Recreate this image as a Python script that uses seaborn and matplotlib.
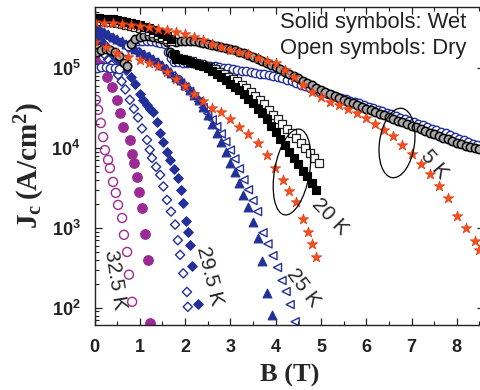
import numpy as np
import pandas as pd
import matplotlib
matplotlib.use("Agg")
import matplotlib.pyplot as plt
import seaborn as sns
from matplotlib.patches import Ellipse
from matplotlib.ticker import LogLocator, FixedLocator, MultipleLocator, FuncFormatter, NullFormatter

# ---------------- data ----------------
# 5 K, reference sample (red stars)
B_5s = [0.0, 0.2, 0.4, 0.6, 0.8, 1.0, 1.2, 1.4, 1.6, 1.8, 2.0, 2.2, 2.4, 2.6, 2.8, 3.0, 3.2, 3.4, 3.6, 3.8,
        4.0, 4.2, 4.4, 4.6, 4.8, 5.0, 5.2, 5.4, 5.6, 5.8, 6.0, 6.2, 6.4, 6.6, 6.8, 7.0, 7.2, 7.4, 7.6, 7.8,
        8.0, 8.2, 8.4, 8.5]
J_5s = [3.8e5, 3.7e5, 3.65e5, 3.55e5, 3.45e5, 3.35e5, 3.25e5, 3.1e5, 2.95e5, 2.8e5, 2.65e5, 2.45e5, 2.25e5,
        2.0e5, 1.85e5, 1.7e5, 1.58e5, 1.5e5, 1.35e5, 1.22e5, 1.15e5, 9.5e4, 7.8e4, 6.2e4, 5.0e4, 4.3e4,
        3.8e4, 3.4e4, 3.1e4, 2.7e4, 2.4e4, 2.0e4, 1.7e4, 1.4e4, 1.1e4, 8.5e3, 6.3e3, 4.7e3, 3.3e3, 2.4e3,
        1.4e3, 1.0e3, 6.8e2, 5.3e2]
# 20 K, reference sample (red stars)
B_20s = [0.0, 0.25, 0.5, 0.75, 1.0, 1.2, 1.4, 1.6, 1.8, 2.0, 2.2, 2.4, 2.6, 2.8, 3.0, 3.2, 3.4, 3.6, 3.8,
         3.98, 4.16, 4.3, 4.45, 4.6, 4.72, 4.8, 4.89]
J_20s = [2.1e5, 1.85e5, 1.55e5, 1.38e5, 1.25e5, 1.17e5, 1.05e5, 8.9e4, 7.3e4, 6.0e4, 4.8e4, 3.9e4, 3.2e4,
         2.8e4, 2.3e4, 1.85e4, 1.5e4, 1.15e4, 8.2e3, 5.6e3, 4.0e3, 2.9e3, 2.1e3, 1.3e3, 9.0e2, 6.3e2, 4.3e2]

# 5 K wet (grey filled circles) and 5 K dry (blue open circles)
B_5w = [0.05, 0.15, 0.25, 0.35, 0.45, 0.55, 0.65, 0.72, 0.8, 0.9, 1.0, 1.1, 1.2, 1.3, 1.4, 1.5, 1.6, 1.66,
        1.72, 1.8, 1.9, 2.0, 2.1, 2.2, 2.3, 2.4, 2.5, 2.6, 2.7, 2.8, 2.9, 3.0, 3.1, 3.2, 3.3, 3.4, 3.5, 3.6,
        3.7, 3.8, 3.9, 4.0, 4.1, 4.2, 4.3, 4.4, 4.5, 4.6, 4.7, 4.8, 4.9, 5.0, 5.1, 5.2, 5.3, 5.4, 5.5, 5.6,
        5.7, 5.8, 5.9, 6.0, 6.1, 6.2, 6.3, 6.4, 6.5, 6.6, 6.7, 6.8, 6.9, 7.0, 7.1, 7.2, 7.3, 7.4, 7.5, 7.6,
        7.7, 7.8, 7.9, 8.0, 8.1, 8.2, 8.3, 8.4, 8.5]
J_5w = [1.6e5, 1.68e5, 1.72e5, 1.7e5, 1.6e5, 1.4e5, 1.15e5, 1.05e5, 2.0e5, 2.3e5, 2.45e5, 2.5e5, 2.5e5,
        2.45e5, 2.4e5, 2.3e5, 2.1e5, 1.6e5, 1.5e5, 2.1e5, 2.2e5, 2.2e5, 2.2e5, 2.15e5, 2.1e5, 2.05e5,
        2.0e5, 1.95e5, 1.9e5, 1.85e5, 1.8e5, 1.75e5, 1.68e5, 1.6e5, 1.52e5, 1.45e5, 1.38e5, 1.3e5, 1.22e5,
        1.15e5, 1.08e5, 1.02e5, 9.6e4, 9.0e4, 8.4e4, 7.9e4, 7.4e4, 6.9e4, 6.5e4, 6.1e4, 5.7e4, 5.35e4,
        5.05e4, 4.75e4, 4.5e4, 4.25e4, 4.0e4, 3.8e4, 3.6e4, 3.4e4, 3.25e4, 3.1e4, 2.95e4, 2.8e4, 2.67e4,
        2.55e4, 2.43e4, 2.32e4, 2.2e4, 2.1e4, 2.0e4, 1.9e4, 1.81e4, 1.72e4, 1.64e4, 1.56e4, 1.49e4, 1.42e4,
        1.35e4, 1.29e4, 1.23e4, 1.17e4, 1.12e4, 1.07e4, 1.03e4, 9.9e3, 9.6e3]
B_5d = [0.05, 0.15, 0.25, 0.35, 0.45, 0.55, 0.65, 0.75, 0.85, 0.95, 1.05, 1.15, 1.25, 1.35, 1.45, 1.55, 1.62,
        1.68, 1.75, 1.85, 1.95, 2.05, 2.15, 2.25, 2.35, 2.45, 2.55, 2.65, 2.75, 2.85, 2.95, 3.05, 3.15, 3.25,
        3.35, 3.45, 3.55, 3.65, 3.75, 3.85, 3.95, 4.05, 4.15, 4.25, 4.35, 4.45, 4.55, 4.65, 4.75, 4.85, 4.95,
        5.05, 5.15, 5.25, 5.35, 5.45, 5.55, 5.65, 5.75, 5.85, 5.95, 6.05, 6.15, 6.25, 6.35, 6.45, 6.55, 6.65,
        6.75, 6.85, 6.95, 7.05, 7.15, 7.25, 7.35, 7.45, 7.55, 7.65, 7.75, 7.85, 7.95, 8.05, 8.15, 8.25, 8.35,
        8.45]
J_5d = [1.0e5, 1.02e5, 1.02e5, 1.0e5, 1.0e5, 9.8e4, 1.3e5, 1.9e5, 2.1e5, 2.2e5, 2.2e5, 2.2e5, 2.15e5, 2.1e5,
        2.05e5, 2.0e5, 1.6e5, 1.35e5, 1.2e5, 1.18e5, 1.17e5, 1.16e5, 1.15e5, 1.13e5, 1.11e5, 1.09e5, 1.07e5,
        1.05e5, 1.03e5, 1.01e5, 9.9e4, 9.7e4, 9.5e4, 9.3e4, 9.1e4, 8.9e4, 8.7e4, 8.5e4, 8.3e4, 8.1e4, 7.9e4,
        7.7e4, 7.4e4, 7.1e4, 6.8e4, 6.5e4, 6.2e4, 5.95e4, 5.7e4, 5.45e4, 5.2e4, 5.0e4, 4.8e4, 4.6e4, 4.4e4,
        4.2e4, 4.05e4, 3.9e4, 3.75e4, 3.6e4, 3.45e4, 3.3e4, 3.15e4, 3.0e4, 2.88e4, 2.76e4, 2.64e4, 2.52e4,
        2.4e4, 2.3e4, 2.2e4, 2.1e4, 2.0e4, 1.91e4, 1.83e4, 1.75e4, 1.67e4, 1.59e4, 1.52e4, 1.45e4, 1.38e4,
        1.31e4, 1.25e4, 1.19e4, 1.13e4, 1.08e4]

# 20 K wet (black filled squares) and dry (black open squares)
B_20w = [0.0, 0.1, 0.2, 0.3, 0.4, 0.5, 0.6, 0.7, 0.8, 0.9, 1.0, 1.1, 1.2, 1.3, 1.4, 1.5, 1.6, 1.7, 1.75, 1.8,
         1.9, 2.0, 2.1, 2.2, 2.3, 2.4, 2.5, 2.6, 2.7, 2.8, 2.9, 3.0, 3.1, 3.2, 3.3, 3.4, 3.5, 3.6, 3.7, 3.8,
         3.9, 4.0, 4.1, 4.2, 4.3, 4.4, 4.5, 4.6, 4.7, 4.8, 4.9]
J_20w = [4.2e5, 4.2e5, 4.15e5, 4.1e5, 4.05e5, 4.0e5, 3.9e5, 3.8e5, 3.7e5, 3.55e5, 3.45e5, 3.3e5, 3.15e5,
         3.0e5, 2.85e5, 2.7e5, 2.5e5, 2.3e5, 1.5e5, 1.3e5, 1.28e5, 1.25e5, 1.2e5, 1.15e5, 1.1e5, 1.05e5,
         1.0e5, 9.2e4, 8.5e4, 7.7e4, 7.0e4, 6.4e4, 5.8e4, 5.3e4, 4.7e4, 4.1e4, 3.6e4, 3.1e4, 2.7e4, 2.3e4,
         1.9e4, 1.6e4, 1.3e4, 1.1e4, 9.0e3, 7.5e3, 6.3e3, 5.2e3, 4.4e3, 3.6e3, 3.0e3]
B_20d = [0.0, 0.1, 0.2, 0.3, 0.4, 0.5, 0.6, 0.7, 0.8, 0.9, 1.0, 1.1, 1.2, 1.3, 1.4, 1.5, 1.6, 1.7, 1.78, 1.85,
         1.95, 2.05, 2.15, 2.25, 2.35, 2.45, 2.55, 2.65, 2.75, 2.85, 2.95, 3.05, 3.15, 3.25, 3.35, 3.45, 3.55,
         3.65, 3.75, 3.85, 3.95, 4.05, 4.15, 4.25, 4.35, 4.45, 4.55, 4.65, 4.75, 4.85, 4.95]
J_20d = [3.9e5, 3.9e5, 3.85e5, 3.8e5, 3.75e5, 3.7e5, 3.6e5, 3.5e5, 3.4e5, 3.3e5, 3.2e5, 3.05e5, 2.9e5,
         2.75e5, 2.6e5, 2.45e5, 2.3e5, 2.15e5, 1.45e5, 1.35e5, 1.3e5, 1.26e5, 1.22e5, 1.17e5, 1.12e5,
         1.07e5, 1.02e5, 9.6e4, 9.0e4, 8.4e4, 7.8e4, 7.3e4, 6.8e4, 6.2e4, 5.6e4, 5.0e4, 4.5e4, 4.0e4,
         3.5e4, 3.0e4, 2.6e4, 2.3e4, 2.0e4, 1.75e4, 1.52e4, 1.32e4, 1.15e4, 1.0e4, 8.7e3, 7.5e3, 6.5e3]

# 25 K wet (filled up-triangles) and dry (open left-triangles)
B_25w = [0.0, 0.1, 0.2, 0.3, 0.4, 0.5, 0.6, 0.7, 0.8, 0.9, 1.0, 1.1, 1.2, 1.3, 1.4, 1.5, 1.6, 1.7, 1.8, 1.9,
         2.0, 2.1, 2.2, 2.3, 2.4, 2.5, 2.6, 2.7, 2.8, 2.9, 3.0, 3.1, 3.2, 3.28, 3.4, 3.5, 3.6, 3.7, 3.81, 3.92]
J_25w = [3.25e5, 3.05e5, 2.85e5, 2.65e5, 2.45e5, 2.3e5, 2.15e5, 2.0e5, 1.85e5, 1.72e5, 1.6e5, 1.5e5,
         1.42e5, 1.3e5, 1.2e5, 1.08e5, 9.6e4, 8.6e4, 7.8e4, 7.0e4, 6.1e4, 5.3e4, 4.6e4, 4.0e4, 3.3e4,
         2.6e4, 2.0e4, 1.55e4, 1.2e4, 9.0e3, 6.5e3, 5.0e3, 3.6e3, 2.6e3, 1.8e3, 1.2e3, 7.5e2, 3.8e2,
         1.55e2, 8.2e1]
B_25d = [0.0, 0.1, 0.2, 0.3, 0.4, 0.5, 0.6, 0.7, 0.8, 0.9, 1.0, 1.1, 1.2, 1.3, 1.4, 1.5, 1.6, 1.7, 1.8, 1.9,
         2.0, 2.1, 2.2, 2.3, 2.4, 2.5, 2.6, 2.7, 2.8, 2.9, 3.0, 3.1, 3.2, 3.3, 3.4, 3.5, 3.6, 3.72, 3.83,
         3.94, 4.04, 4.14, 4.23, 4.32, 4.43]
J_25d = [3.0e5, 2.8e5, 2.6e5, 2.4e5, 2.25e5, 2.1e5, 1.97e5, 1.85e5, 1.72e5, 1.6e5, 1.48e5, 1.38e5,
         1.28e5, 1.18e5, 1.08e5, 9.8e4, 8.9e4, 8.0e4, 7.2e4, 6.5e4, 5.8e4, 5.1e4, 4.4e4, 3.8e4, 3.2e4,
         2.7e4, 2.25e4, 1.85e4, 1.5e4, 1.2e4, 9.4e3, 7.3e3, 5.5e3, 4.0e3, 3.0e3, 2.2e3, 1.6e3, 8.7e2,
         6.3e2, 4.5e2, 3.2e2, 2.2e2, 1.6e2, 1.1e2, 6.7e1]

# 29.5 K wet (filled diamonds) and dry (open diamonds)
B_29w = [0.0, 0.1, 0.2, 0.3, 0.4, 0.5, 0.6, 0.7, 0.8, 0.9, 1.0, 1.08, 1.16, 1.23, 1.29, 1.37, 1.45, 1.52,
         1.6, 1.67, 1.75, 1.84, 1.9, 1.95, 2.02, 2.07, 2.11, 2.15, 2.28]
J_29w = [2.6e5, 2.3e5, 2.0e5, 1.75e5, 1.5e5, 1.3e5, 1.1e5, 9.4e4, 7.8e4, 6.3e4, 4.8e4, 4.0e4, 3.4e4,
         3.1e4, 2.8e4, 2.1e4, 1.54e4, 1.2e4, 9.0e3, 7.1e3, 5.5e3, 4.2e3, 3.0e3, 2.06e3, 1.22e3, 9.0e2,
         6.1e2, 3.35e2, 1.12e2]
B_29d = [0.0, 0.08, 0.16, 0.23, 0.3, 0.37, 0.45, 0.52, 0.6, 0.68, 0.78, 0.87, 0.96, 1.05, 1.16, 1.22, 1.27,
         1.36, 1.45, 1.52, 1.6, 1.69, 1.78, 1.84, 1.89, 1.96, 2.04, 2.06]
J_29d = [2.1e5, 1.9e5, 1.65e5, 1.46e5, 1.28e5, 1.1e5, 9.6e4, 8.2e4, 6.8e4, 5.4e4, 4.0e4, 3.1e4, 2.4e4,
         1.75e4, 1.26e4, 9.5e3, 7.5e3, 5.8e3, 4.6e3, 3.3e3, 2.24e3, 1.6e3, 1.1e3, 7.0e2, 4.6e2, 2.7e2,
         1.58e2, 1.03e2]

# 32.5 K wet (purple filled circles) and dry (purple open circles)
B_32w = [0.0, 0.12, 0.28, 0.39, 0.5, 0.56, 0.63, 0.78, 0.83, 0.87, 0.94, 0.98, 1.05, 1.11, 1.18, 1.23]
J_32w = [1.26e5, 1.09e5, 7.7e4, 5.8e4, 4.0e4, 2.74e4, 1.83e4, 1.26e4, 8.4e3, 6.5e3, 4.3e3, 2.8e3, 1.78e3,
         8.4e2, 3.98e2, 6.5e1]
B_32d = [0.03, 0.08, 0.14, 0.19, 0.23, 0.3, 0.34, 0.41, 0.47, 0.52, 0.61, 0.65, 0.72, 0.76, 0.83]
J_32d = [4.0e4, 3.0e4, 2.05e4, 1.37e4, 9.4e3, 7.1e3, 5.6e3, 3.76e3, 2.74e3, 1.94e3, 1.33e3, 8.2e2, 5.0e2,
         2.6e2, 1.19e2]

x_ticks = [0, 1, 2, 3, 4, 5, 6, 7, 8]
y_ticks = [1e2, 1e3, 1e4, 1e5]

# ---------------- styling ----------------
sns.set_theme(style="ticks")
plt.rcParams["font.family"] = ["Liberation Sans", "DejaVu Sans"]
plt.rcParams["mathtext.fontset"] = "custom"
plt.rcParams["mathtext.bf"] = "Liberation Serif:bold"
plt.rcParams["mathtext.sf"] = "Liberation Sans:bold"
plt.rcParams["mathtext.rm"] = "Liberation Serif"

RED = "#F4511E"
BLUE = "#23309A"
PURPLE = "#9C2A94"

fig = plt.figure(figsize=(4.8, 3.9), dpi=100)
ax = fig.add_axes([94.5 / 480, 1 - 325 / 390, (484 - 94.5) / 480, (325 - 7) / 390])

def draw(B, J, marker, size, face, edge, lw=0.9, z=2):
    df = pd.DataFrame({"B": B, "J": J})
    sns.scatterplot(data=df, x="B", y="J", marker=marker, s=size, color=edge,
                    edgecolor=edge, linewidth=lw, ax=ax, zorder=z, legend=False)
    coll = ax.collections[-1]
    coll.set_facecolor(face)
    coll.set_edgecolor(edge)

# draw order: back to front
draw(B_32d, J_32d, "o", 42, "none", PURPLE, 1.0)
draw(B_32w, J_32w, "o", 48, PURPLE, PURPLE, 0.8)
draw(B_29d, J_29d, "D", 22, "none", BLUE, 1.0)
draw(B_29w, J_29w, "D", 24, BLUE, BLUE, 0.8)
draw(B_25d, J_25d, "<", 34, "none", BLUE, 1.0)
draw(B_25w, J_25w, "^", 40, BLUE, BLUE, 0.8)
draw(B_5d, J_5d, "o", 36, "white", BLUE, 1.0)
draw(B_5w, J_5w, "o", 36, "#A8A8A8", "black", 1.1)
draw(B_20d, J_20d, "s", 26, "white", "#222222", 0.9)
draw(B_20w, J_20w, "s", 26, "black", "black", 0.8)
draw(B_20s, J_20s, "*", 62, RED, "#E03A10", 0.5)
draw(B_5s, J_5s, "*", 62, RED, "#E03A10", 0.5)

ax.set_yscale("log")
ax.set_xlim(0, 8.6)
ax.set_ylim(61, 5.8e5)
ax.xaxis.set_major_locator(FixedLocator(x_ticks))
ax.xaxis.set_minor_locator(MultipleLocator(0.5))
ax.yaxis.set_major_locator(FixedLocator(y_ticks))
ax.yaxis.set_minor_locator(LogLocator(base=10, subs=np.arange(2, 10), numticks=20))
ax.yaxis.set_minor_formatter(NullFormatter())
ax.yaxis.set_major_formatter(FuncFormatter(lambda v, p: r"$\mathsf{10^{%d}}$" % int(round(np.log10(v)))))
ax.xaxis.set_major_formatter(FuncFormatter(lambda v, p: "%d" % v))

ax.tick_params(which="both", direction="in", top=True, right=True, colors="#222222")
ax.tick_params(which="major", length=5, width=0.9, labelsize=13, pad=10)
ax.tick_params(which="minor", length=3, width=0.8)
for lab in ax.get_xticklabels() + ax.get_yticklabels():
    lab.set_fontweight("bold")
for sp in ax.spines.values():
    sp.set_linewidth(1.0)
    sp.set_color("#222222")

ax.set_xlabel("B (T)", family="Liberation Serif", fontweight="bold", fontsize=19, labelpad=6)
ax.set_ylabel(r"$\mathbf{J_c\,(A/cm^2)}$", fontsize=21, labelpad=3)

# annotations
ax.text(0.476, 0.985, "Solid symbols: Wet\nOpen symbols: Dry", transform=ax.transAxes,
        fontsize=15.8, va="top", ha="left", color="#222222", linespacing=1.3, zorder=20)
ax.text(0.46, 224, "32.5 K", rotation=-81, fontsize=15, ha="center", va="center", rotation_mode="anchor")
ax.text(2.55, 251, "29.5 K", rotation=-76, fontsize=15, ha="center", va="center", rotation_mode="anchor")
ax.text(4.6, 178, "25 K", rotation=-53, fontsize=15, ha="center", va="center", rotation_mode="anchor")
ax.text(5.2, 1380, "20 K", rotation=-46, fontsize=15, ha="center", va="center", rotation_mode="anchor")
ax.text(7.5, 6300, "5 K", rotation=-50, fontsize=15, ha="center", va="center", rotation_mode="anchor")

for (cx, cy, w, h, ang) in [(292, 172, 35, 87, -10), (397, 143, 35, 70, -8)]:
    e = Ellipse((cx / 100, (390 - cy) / 100), w / 100, h / 100, angle=ang,
                transform=fig.dpi_scale_trans, fill=False, lw=0.9, ec="black", zorder=10)
    fig.patches.append(e)

fig.savefig("out.png", dpi=100)
